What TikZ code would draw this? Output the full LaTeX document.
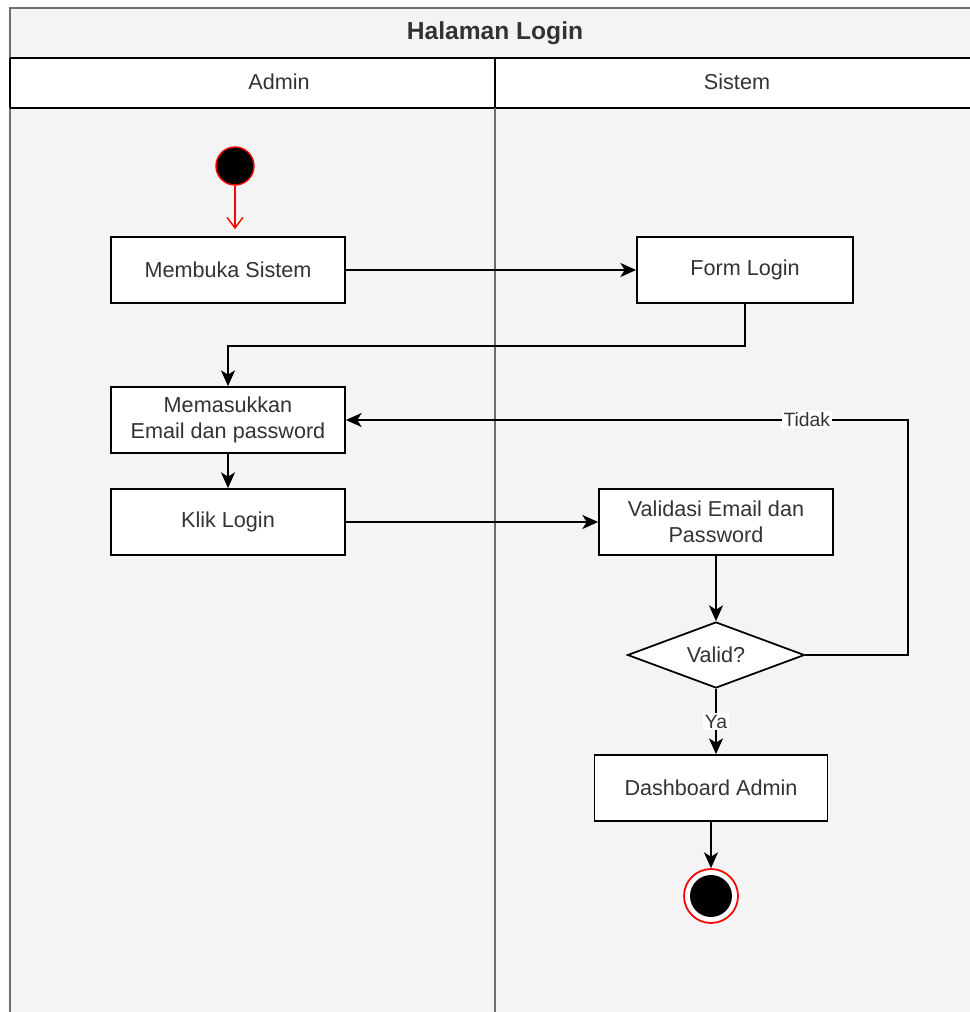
\documentclass[tikz,border=0pt]{standalone}
\usepackage{fontspec}
\setmainfont{Liberation Sans}
\usetikzlibrary{arrows.meta,shapes.geometric}
\definecolor{lanefill}{HTML}{F4F4F4}
\definecolor{txt}{HTML}{333333}
\definecolor{framegray}{HTML}{6E6E6E}
\definecolor{startred}{HTML}{FF0000}
\begin{document}
\begin{tikzpicture}[x=0.02cm,y=-0.02cm,
  txtfont/.style={font=\fontsize{12.3}{15}\selectfont},
  act/.style={draw=black, fill=white, line width=1pt, minimum width=4.68cm,
    minimum height=1.32cm, inner sep=2pt, align=center, text=txt, txtfont},
  decision/.style={diamond, aspect=2.7, draw=black, fill=white, line width=1pt, inner sep=0pt,
    minimum width=3.54cm, minimum height=1.32cm, text=txt, txtfont},
  flow/.style={draw=black, line width=1pt, -{Stealth[length=9pt,width=8pt,inset=2.5pt]}},
  startflow/.style={draw=startred, line width=0.8pt, -{Straight Barb[length=6pt,width=9pt]}, shorten >=4pt},
  lbl/.style={fill=white, inner sep=1pt, text=txt, font=\fontsize{11}{13}\selectfont},
  lanetext/.style={text=txt, txtfont}]
\useasboundingbox (0,0) rectangle (970,1012);
\clip (0,0) rectangle (970,1012);

% swimlane frame
\fill[lanefill] (10,8) rectangle (985,1025);
\fill[white] (10,58) rectangle (985,108);
\draw[framegray, line width=1pt] (10,1025) -- (10,8) -- (985,8);
\draw[black, line width=1pt] (10,58) -- (985,58);
\draw[black, line width=1pt] (10,108) -- (985,108);
\draw[black, line width=1pt] (10,58) -- (10,108);
\draw[black, line width=0.8pt] (495,58) -- (495,108);
\draw[framegray, line width=0.8pt] (495,108) -- (495,1025);

\node[text=txt, font=\bfseries\fontsize{14}{17}\selectfont] (title) at (495,33) {Halaman Login};
\node[lanetext] (laneA) at (279,82) {Admin};
\node[lanetext] (laneS) at (737,82) {Sistem};

% activities
\node[circle, fill=black, draw=startred, line width=0.8pt, minimum size=0.76cm, inner sep=0pt] (start) at (235,166) {};
\node[act] (membuka) at (228,270) {Membuka Sistem};
\node[act, minimum width=4.32cm] (form) at (745,270) {Form Login};
\node[act] (masuk) at (228,420) {Memasukkan\\Email dan password};
\node[act] (klik) at (228,522) {Klik Login};
\node[act] (validasi) at (716,522) {Validasi Email dan\\Password};
\node[decision] (cek) at (716,655) {Valid?};
\node[act, minimum width=4.66cm] (dash) at (711,788) {Dashboard Admin};
\node[circle, fill=white, draw=startred, line width=1pt, minimum size=1.08cm, inner sep=0pt] (end) at (711,896) {};
\node[circle, fill=black, minimum size=0.84cm, inner sep=0pt] (endcore) at (end.center) {};

\coordinate (loopA) at (908,655);
\coordinate (loopB) at (908,420);

% connectors
\draw[startflow] (start) -- (start |- membuka.north);
\draw[flow] (membuka) -- (form);
\draw[flow] (form.south) -- ++(0,42) -| (masuk.north);
\draw[flow] (masuk) -- (klik);
\draw[flow] (klik) -- (validasi);
\draw[flow] (validasi) -- (cek);
\draw[flow] (cek.east) -- (loopA) -- (loopB) -- node[lbl, pos=0.18] {Tidak} (masuk.east);
\draw[flow] (cek.south) -- node[lbl] {Ya} (cek.south |- dash.north);
\draw[flow] (dash) -- (end);
\end{tikzpicture}
\end{document}
